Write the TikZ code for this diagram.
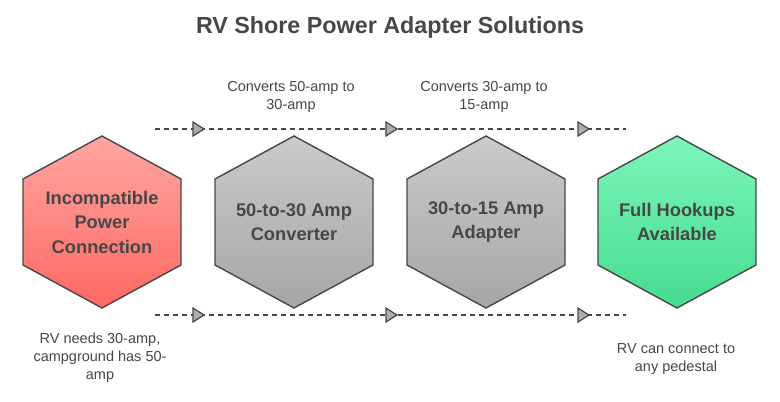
\documentclass[tikz,border=0pt]{standalone}
\usepackage{fontspec}
\setmainfont{Liberation Sans}
\begin{document}
\begin{tikzpicture}[x=1pt,y=-1pt,
  hexline/.style={draw=black!72, line width=1.4pt, line join=miter},
  hextext/.style={text=black!72, font=\fontsize{18.3}{24.5}\selectfont\bfseries, align=center},
  note/.style={text=black!72, font=\fontsize{14.5}{18}\selectfont, align=center},
  flow/.style={draw=black!72, line width=1.2pt, dash pattern=on 5pt off 4pt},
  tri/.style={draw=black!72, fill=black!32, line width=1.2pt, line join=miter}]
\useasboundingbox (0,0) rectangle (780,402);
\fill[white] (0,0) rectangle (780,402);
\node[text=black!72, font=\fontsize{23.3}{26}\selectfont\bfseries] (title) at (390,27) {RV Shore Power Adapter Solutions};

% hexagons
\newcommand{\hexpath}[1]{(#1)++(0,-86) -- ++(79,43) -- ++(0,86) -- ++(-79,43) -- ++(-79,-43) -- ++(0,-86) -- cycle}
\coordinate (c1) at (102,222);
\coordinate (c2) at (294,222);
\coordinate (c3) at (486,222);
\coordinate (c4) at (677,222);
\path[hexline, top color={rgb,255:red,255;green,166;blue,162}, bottom color={rgb,255:red,255;green,104;blue,98}] \hexpath{c1};
\path[hexline, top color={rgb,255:red,202;green,202;blue,202}, bottom color={rgb,255:red,166;green,166;blue,166}] \hexpath{c2};
\path[hexline, top color={rgb,255:red,202;green,202;blue,202}, bottom color={rgb,255:red,166;green,166;blue,166}] \hexpath{c3};
\path[hexline, top color={rgb,255:red,125;green,246;blue,186}, bottom color={rgb,255:red,68;green,220;blue,142}] \hexpath{c4};
\node[hextext] (h1) at (c1) {Incompatible\\Power\\Connection};
\node[hextext] (h2) at (c2) {50-to-30 Amp\\Converter};
\node[hextext] (h3) at (c3) {30-to-15 Amp\\Adapter};
\node[hextext] (h4) at (c4) {Full Hookups\\Available};

% flow lines
\coordinate (ts) at (155,129); \coordinate (te) at (626,129);
\coordinate (bs) at (155,315); \coordinate (be) at (626,315);
\draw[flow] (ts) -- (te);
\draw[flow] (bs) -- (be);
\foreach \x in {198,391,583}{
  \draw[tri] (\x-5,122) -- (\x+6,129) -- (\x-5,136) -- cycle;
  \draw[tri] (\x-5,308) -- (\x+6,315) -- (\x-5,322) -- cycle;
}

% notes
\node[note] (n1) at (291,97) {Converts 50-amp to\\30-amp};
\node[note] (n2) at (484,97) {Converts 30-amp to\\15-amp};
\node[note] (n3) at (100,358) {RV needs 30-amp,\\campground has 50-\\amp};
\node[note] (n4) at (676,359) {RV can connect to\\any pedestal};
\end{tikzpicture}
\end{document}
